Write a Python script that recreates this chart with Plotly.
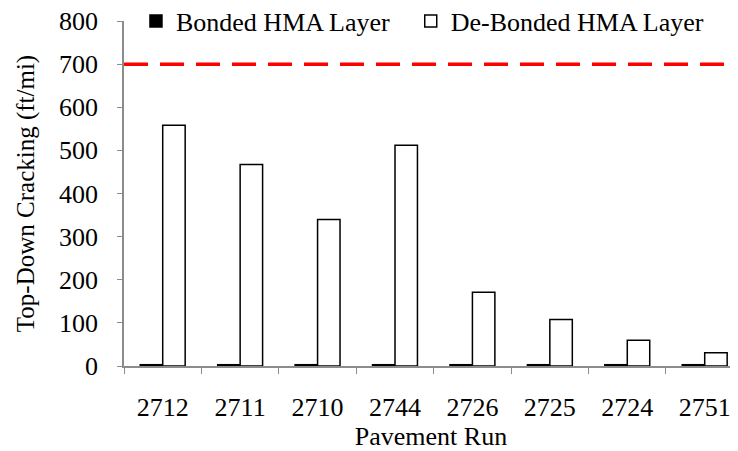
import plotly.graph_objects as go

runs = ["2712", "2711", "2710", "2744", "2726", "2725", "2724", "2751"]
bonded = [3, 3, 3, 3, 3, 3, 3, 3]
debonded = [558, 467, 340, 512, 171, 108, 60, 31]
threshold = 700
y_ticks = [0, 100, 200, 300, 400, 500, 600, 700, 800]

FONT = "Liberation Serif, Times New Roman, serif"
AXIS = "#8c8c8c"

fig = go.Figure()
fig.add_trace(go.Bar(
    x=runs, y=bonded, name="Bonded HMA Layer", legend="legend",
    marker=dict(color="black", line=dict(color="black", width=1.5)),
))
fig.add_trace(go.Bar(
    x=runs, y=debonded, name="De-Bonded HMA Layer", legend="legend2",
    marker=dict(color="white", line=dict(color="black", width=1.5)),
))

fig.add_shape(
    type="line", xref="paper", yref="y", x0=0, x1=1, y0=threshold, y1=threshold,
    line=dict(color="#ff0000", width=3.5, dash="24px,12px"),
)

# page body has an 8px margin, so the figure is 8px smaller than the window
legend_style = dict(orientation="h", y=1.0, xanchor="left", yanchor="middle",
                    font=dict(family=FONT, size=26), bgcolor="rgba(0,0,0,0)",
                    itemwidth=30)
fig.update_layout(
    width=730, height=443,
    margin=dict(l=116, r=0, t=13, b=85, autoexpand=False),
    paper_bgcolor="white", plot_bgcolor="white",
    font=dict(family=FONT, size=26, color="black"),
    barmode="group", bargap=0.42, bargroupgap=0,
    showlegend=True,
    legend=dict(x=0.0195, **legend_style),
    legend2=dict(x=0.467, **legend_style),
)
fig.update_xaxes(
    automargin=False, range=[-0.5, 7.43],
    showline=True, linecolor=AXIS, linewidth=1.5,
    ticks="outside", tickson="boundaries", ticklen=6, tickcolor=AXIS,
    ticklabelstandoff=17, ticklabeloverflow="allow",
    title=dict(text="Pavement Run", font=dict(family=FONT, size=26), standoff=0),
    tickfont=dict(family=FONT, size=26),
)
fig.update_yaxes(
    automargin=False,
    range=[0, 800], tickvals=y_ticks, showgrid=False, zeroline=False,
    showline=True, linecolor=AXIS, linewidth=1.5,
    ticks="outside", ticklen=5, tickcolor=AXIS,
    ticklabelstandoff=14, ticklabeloverflow="allow",
    title=dict(text="Top-Down Cracking (ft/mi)", font=dict(family=FONT, size=25),
               standoff=17),
    tickfont=dict(family=FONT, size=26),
)

fig.write_html("out.html")
